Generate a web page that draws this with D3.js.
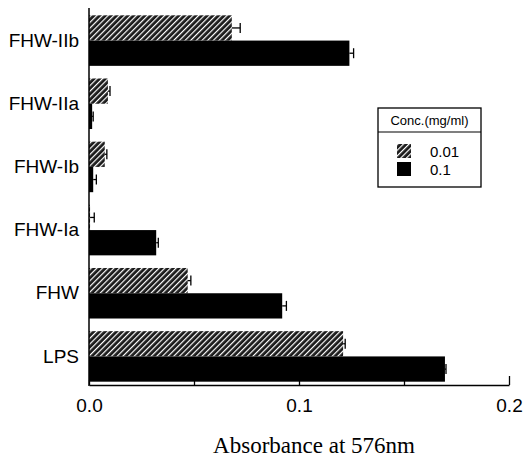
<!DOCTYPE html>
<html>
<head>
<meta charset="utf-8">
<script src="https://cdn.jsdelivr.net/npm/d3@7"></script>
<style>
  html, body { margin: 0; padding: 0; background: #fff; }
  #chart { width: 527px; height: 459px; }
</style>
</head>
<body>
<div id="chart"></div>
<script>
// Absorbance at 576nm per fraction, two concentrations
const categories = ["FHW-IIb", "FHW-IIa", "FHW-Ib", "FHW-Ia", "FHW", "LPS"];
const seriesNames = ["0.01", "0.1"];
const lowValues = [0.068, 0.009, 0.0075, 0.0005, 0.047, 0.121];   // 0.01 mg/ml
const lowErrors = [0.004, 0.001, 0.001, 0.002, 0.0015, 0.001];
const highValues = [0.124, 0.0015, 0.002, 0.032, 0.092, 0.1695]; // 0.1 mg/ml
const highErrors = [0.002, 0.0005, 0.0015, 0.001, 0.002, 0.0005];
const xTicks = [0, 0.05, 0.1, 0.15, 0.2];
const xTickLabels = ["0.0", "", "0.1", "", "0.2"];

const W = 527, H = 459;
const svg = d3.select('#chart').append('svg').attr('width', W).attr('height', H);

// hatch pattern for the 0.01 series
const defs = svg.append('defs');
const pat = defs.append('pattern')
  .attr('id', 'hatch')
  .attr('patternUnits', 'userSpaceOnUse')
  .attr('width', 4).attr('height', 4)
  .attr('patternTransform', 'rotate(45)');
pat.append('rect').attr('width', 4).attr('height', 4).attr('fill', '#1a1a1a');
pat.append('rect').attr('x', 0).attr('width', 1.2).attr('height', 4).attr('fill', '#fff');

const x = d3.scaleLinear().domain([0, 0.2]).range([89, 509]);
const y = d3.scaleBand().domain(categories).range([9, 388]).paddingInner(0.2).paddingOuter(0.1);
const sub = d3.scaleBand().domain(seriesNames).range([0, y.bandwidth()]);

const rows = categories.map((c, i) => ({
  cat: c,
  vals: [
    {s: "0.01", v: lowValues[i], e: lowErrors[i]},
    {s: "0.1", v: highValues[i], e: highErrors[i]}
  ]
}));

const fills = {"0.01": "url(#hatch)", "0.1": "#000"};

const g = svg.selectAll('g.row').data(rows).enter().append('g')
  .attr('class', 'row')
  .attr('transform', d => `translate(0,${y(d.cat)})`);

// error bars first so bars sit on top
const eb = g.selectAll('g.err').data(d => d.vals).enter().append('g').attr('class', 'err');
eb.append('line')
  .attr('x1', d => x(d.v)).attr('x2', d => x(d.v + d.e))
  .attr('y1', d => sub(d.s) + sub.bandwidth() / 2)
  .attr('y2', d => sub(d.s) + sub.bandwidth() / 2)
  .attr('stroke', '#000').attr('stroke-width', 1.3);
eb.append('line')
  .attr('x1', d => x(d.v + d.e)).attr('x2', d => x(d.v + d.e))
  .attr('y1', d => sub(d.s) + sub.bandwidth() / 2 - 5)
  .attr('y2', d => sub(d.s) + sub.bandwidth() / 2 + 5)
  .attr('stroke', '#000').attr('stroke-width', 1.3);

g.selectAll('rect').data(d => d.vals).enter().append('rect')
  .attr('x', x(0))
  .attr('y', d => sub(d.s))
  .attr('width', d => x(d.v) - x(0))
  .attr('height', sub.bandwidth())
  .attr('fill', d => fills[d.s]);

// x axis
const xAxis = svg.append('g')
  .attr('transform', `translate(0,385)`)
  .call(d3.axisBottom(x).tickValues(xTicks)
    .tickFormat((d, i) => xTickLabels[i])
    .tickSizeInner(-5).tickSizeOuter(0).tickPadding(14));
xAxis.select('.domain').attr('stroke-width', 1.5);
xAxis.selectAll('.tick line').attr('stroke-width', 1.3);
xAxis.selectAll('.tick').filter(d => d === 0.2).select('line').attr('y2', -9);
xAxis.selectAll('text')
  .attr('font-family', 'Liberation Sans, Arial, sans-serif')
  .attr('font-size', 19).attr('fill', '#000');

// y axis
const yAxis = svg.append('g')
  .attr('transform', `translate(89,0)`)
  .call(d3.axisLeft(y).tickSize(0).tickPadding(10));
yAxis.select('.domain').remove();
yAxis.selectAll('text')
  .attr('font-family', 'Liberation Sans, Arial, sans-serif')
  .attr('font-size', 19).attr('fill', '#000');
svg.append('line')
  .attr('x1', 89).attr('x2', 89).attr('y1', 8).attr('y2', 386)
  .attr('stroke', '#000').attr('stroke-width', 1.5);

// axis title
svg.append('text')
  .attr('x', 314).attr('y', 453)
  .attr('text-anchor', 'middle')
  .attr('font-family', 'Liberation Serif, Times New Roman, serif')
  .attr('font-size', 23)
  .text('Absorbance at 576nm');

// legend
const lg = svg.append('g').attr('transform', 'translate(378,108)');
lg.append('rect').attr('width', 103).attr('height', 79)
  .attr('fill', '#fff').attr('stroke', '#000').attr('stroke-width', 1.3);
lg.append('line').attr('x1', 0).attr('x2', 103).attr('y1', 24).attr('y2', 24)
  .attr('stroke', '#000').attr('stroke-width', 1.2);
lg.append('text').attr('x', 51.5).attr('y', 17)
  .attr('text-anchor', 'middle')
  .attr('font-family', 'Liberation Sans, Arial, sans-serif')
  .attr('font-size', 13)
  .text('Conc.(mg/ml)');
const items = lg.selectAll('g.item').data(seriesNames).enter().append('g')
  .attr('class', 'item')
  .attr('transform', (d, i) => `translate(19,${36 + i * 18})`);
items.append('rect').attr('width', 14).attr('height', 14)
  .attr('fill', d => fills[d]);
items.append('text').attr('x', 33).attr('y', 13)
  .attr('font-family', 'Liberation Sans, Arial, sans-serif')
  .attr('font-size', 15)
  .text(d => d);
</script>
</body>
</html>
